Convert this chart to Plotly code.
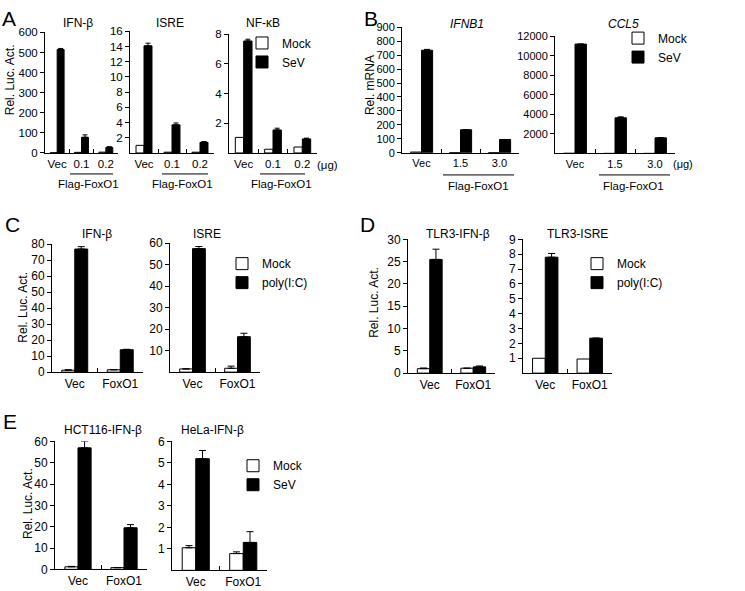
import plotly.graph_objects as go

W, H = 745, 591
FONT = "Arial, 'Liberation Sans', sans-serif"

# ---------------- data ----------------
# Panel A (luciferase, SeV)
a_cats = ["Vec", "0.1", "0.2"]
a_ifnb_mock = [1, 3, 4]
a_ifnb_mock_err = [0, 0, 0]
a_ifnb_sev = [515, 78, 28]
a_ifnb_sev_err = [5, 12, 3]
a_isre_mock = [1.0, 0.1, 0.1]
a_isre_mock_err = [0, 0, 0]
a_isre_sev = [14.1, 3.7, 1.4]
a_isre_sev_err = [0.35, 0.25, 0.1]
a_nfkb_mock = [1.05, 0.25, 0.4]
a_nfkb_mock_err = [0, 0, 0]
a_nfkb_sev = [7.55, 1.55, 0.95]
a_nfkb_sev_err = [0.12, 0.12, 0.05]

# Panel B (mRNA, SeV)
b_cats = ["Vec", "1.5", "3.0"]
b_ifnb1_mock = [5, 1, 1]
b_ifnb1_mock_err = [0, 0, 0]
b_ifnb1_sev = [735, 165, 95]
b_ifnb1_sev_err = [6, 0, 0]
b_ccl5_mock = [20, 5, 5]
b_ccl5_mock_err = [0, 0, 0]
b_ccl5_sev = [11200, 3650, 1600]
b_ccl5_sev_err = [0, 100, 0]

# Panel C (poly(I:C))
c_cats = ["Vec", "FoxO1"]
c_ifnb_mock = [1.2, 1.5]
c_ifnb_mock_err = [0.3, 0]
c_ifnb_poly = [77, 14]
c_ifnb_poly_err = [1.5, 0.3]
c_isre_mock = [1.5, 1.8]
c_isre_mock_err = [0, 1.0]
c_isre_poly = [57.5, 16.5]
c_isre_poly_err = [1.0, 1.6]

# Panel D (TLR3, poly(I:C))
d_cats = ["Vec", "FoxO1"]
d_ifnb_mock = [1.0, 1.1]
d_ifnb_mock_err = [0.15, 0]
d_ifnb_poly = [25.5, 1.4]
d_ifnb_poly_err = [2.3, 0.2]
d_isre_mock = [1.0, 0.95]
d_isre_mock_err = [0, 0]
d_isre_poly = [7.8, 2.35]
d_isre_poly_err = [0.25, 0]

# Panel E (cell lines, SeV)
e_cats = ["Vec", "FoxO1"]
e_hct_mock = [1.2, 0.8]
e_hct_mock_err = [0.2, 0]
e_hct_sev = [57, 19.5]
e_hct_sev_err = [3, 1.5]
e_hela_mock = [1.05, 0.78]
e_hela_mock_err = [0.1, 0.08]
e_hela_sev = [5.2, 1.3]
e_hela_sev_err = [0.38, 0.5]


def px(x):
    return x / W


def py(y):
    return 1 - y / H


subplots = [
    dict(title="IFN-β", cats=a_cats, mock=a_ifnb_mock, merr=a_ifnb_mock_err, trt=a_ifnb_sev, terr=a_ifnb_sev_err,
         tname="SeV", ymax=600, tv=list(range(0, 601, 100)), xp=(45, 118), yp=(149.5, 26), fs=11.5,
         leg="legend", show=True, tpos=(78, 16), cap=2.5),
    dict(title="ISRE", cats=a_cats, mock=a_isre_mock, merr=a_isre_mock_err, trt=a_isre_sev, terr=a_isre_sev_err,
         tname="SeV", ymax=16, tv=list(range(2, 17, 2)), xp=(130, 214), yp=(149.5, 25), fs=11.5,
         leg="legend", show=False, tpos=(170, 16), cap=2.5),
    dict(title="NF-κB", cats=a_cats, mock=a_nfkb_mock, merr=a_nfkb_mock_err, trt=a_nfkb_sev, terr=a_nfkb_sev_err,
         tname="SeV", ymax=8, tv=[2, 4, 6, 8], xp=(229, 317), yp=(149.5, 28), fs=11.5,
         leg="legend", show=False, tpos=(263, 16), cap=2.5),
    dict(title="<i>IFNB1</i>", cats=b_cats, mock=b_ifnb1_mock, merr=b_ifnb1_mock_err, trt=b_ifnb1_sev,
         terr=b_ifnb1_sev_err, tname="SeV", ymax=900, tv=list(range(0, 901, 100)), xp=(402, 519),
         yp=(149.3, 20.7), fs=11, leg="legend2", show=True, tpos=(467, 17), cap=3),
    dict(title="<i>CCL5</i>", cats=b_cats, mock=b_ccl5_mock, merr=b_ccl5_mock_err, trt=b_ccl5_sev,
         terr=b_ccl5_sev_err, tname="SeV", ymax=12000, tv=list(range(2000, 12001, 2000)), xp=(555, 675),
         yp=(150, 30), fs=11, leg="legend2", show=False, tpos=(623, 17), cap=3),
    dict(title="IFN-β", cats=c_cats, mock=c_ifnb_mock, merr=c_ifnb_mock_err, trt=c_ifnb_poly, terr=c_ifnb_poly_err,
         tname="poly(I:C)", ymax=80, tv=list(range(0, 81, 10)), xp=(52, 143), yp=(374, 243), fs=12,
         leg="legend3", show=True, tpos=(97, 233), cap=3.5),
    dict(title="ISRE", cats=c_cats, mock=c_isre_mock, merr=c_isre_mock_err, trt=c_isre_poly, terr=c_isre_poly_err,
         tname="poly(I:C)", ymax=60, tv=list(range(10, 61, 10)), xp=(170, 260), yp=(374, 242), fs=12,
         leg="legend3", show=False, tpos=(207, 233), cap=3.5),
    dict(title="TLR3-IFN-β", cats=d_cats, mock=d_ifnb_mock, merr=d_ifnb_mock_err, trt=d_ifnb_poly,
         terr=d_ifnb_poly_err, tname="poly(I:C)", ymax=30, tv=list(range(0, 31, 5)), xp=(408, 495),
         yp=(375, 238), fs=12, leg="legend4", show=True, tpos=(458, 232), cap=3.5),
    dict(title="TLR3-ISRE", cats=d_cats, mock=d_isre_mock, merr=d_isre_mock_err, trt=d_isre_poly,
         terr=d_isre_poly_err, tname="poly(I:C)", ymax=9, tv=list(range(1, 10)), xp=(523, 612),
         yp=(375, 238), fs=12, leg="legend4", show=False, tpos=(577, 232), cap=3.5),
    dict(title="HCT116-IFN-β", cats=e_cats, mock=e_hct_mock, merr=e_hct_mock_err, trt=e_hct_sev,
         terr=e_hct_sev_err, tname="SeV", ymax=60, tv=list(range(0, 61, 10)), xp=(55, 147),
         yp=(576, 445), fs=12, leg="legend5", show=True, tpos=(103, 433), cap=3.5),
    dict(title="HeLa-IFN-β", cats=e_cats, mock=e_hela_mock, merr=e_hela_mock_err, trt=e_hela_sev,
         terr=e_hela_sev_err, tname="SeV", ymax=6, tv=list(range(1, 7)), xp=(172, 267),
         yp=(577, 445), fs=12, leg="legend5", show=False, tpos=(212, 433), cap=3.5),
]

fig = go.Figure()
annotations = []
layout_axes = {}


def err(arr, cap):
    if not any(v > 0 for v in arr):
        return dict(visible=False)
    return dict(type="data", array=arr, arrayminus=[0] * len(arr), symmetric=False,
                color="black", thickness=1, width=cap, visible=True)


for i, s in enumerate(subplots, start=1):
    xa = "x" if i == 1 else f"x{i}"
    ya = "y" if i == 1 else f"y{i}"
    n = len(s["cats"])
    fig.add_trace(go.Bar(
        x=s["cats"], y=s["mock"], name="Mock", xaxis=xa, yaxis=ya,
        marker=dict(color="white", line=dict(color="black", width=1)),
        error_y=err(s["merr"], s["cap"]), showlegend=s["show"], legend=s["leg"],
        legendgroup=f"{s['leg']}_mock"))
    fig.add_trace(go.Bar(
        x=s["cats"], y=s["trt"], name=s["tname"], xaxis=xa, yaxis=ya,
        marker=dict(color="black", line=dict(color="black", width=1)),
        error_y=err(s["terr"], s["cap"]), showlegend=s["show"], legend=s["leg"],
        legendgroup=f"{s['leg']}_trt"))
    x0, x1 = s["xp"]
    yz, yt = s["yp"]
    kx = "xaxis" if i == 1 else f"xaxis{i}"
    ky = "yaxis" if i == 1 else f"yaxis{i}"
    layout_axes[kx] = dict(
        domain=[px(x0), px(x1)], anchor=ya, type="category", range=[-0.5, n - 0.5],
        showline=True, linecolor="black", linewidth=1, ticks="inside", tickson="boundaries",
        ticklen=4, tickcolor="black", tickwidth=1, showgrid=False, zeroline=False, tickangle=0,
        tickfont=dict(family=FONT, size=s["fs"], color="black"), fixedrange=True)
    layout_axes[ky] = dict(
        domain=[py(yz), py(yt)], anchor=xa, range=[0, s["ymax"]], tickmode="array",
        tickvals=s["tv"], ticktext=[str(v) for v in s["tv"]],
        showline=True, linecolor="black", linewidth=1, ticks="outside", ticklen=4,
        tickcolor="black", tickwidth=1, showgrid=False, zeroline=False,
        tickfont=dict(family=FONT, size=s["fs"], color="black"), fixedrange=True)
    annotations.append(dict(text=s["title"], x=px(s["tpos"][0]), y=py(s["tpos"][1]), xref="paper",
                            yref="paper", showarrow=False, xanchor="center", yanchor="middle",
                            font=dict(family=FONT, size=12, color="black")))


def text(t, x, y, size=12, angle=0, xanchor="center"):
    annotations.append(dict(text=t, x=px(x), y=py(y), xref="paper", yref="paper", showarrow=False,
                            xanchor=xanchor, yanchor="middle", textangle=angle,
                            font=dict(family=FONT, size=size, color="black")))


# panel letters
for letter, x, y in [("A", 9, 12), ("B", 371, 12), ("C", 12, 223), ("D", 367, 223), ("E", 10, 425)]:
    text(letter, x, y, size=21)

# y-axis titles
text("Rel. Luc. Act.", 10, 75, size=12, angle=-90)
text("Rel. mRNA", 370, 80, size=12, angle=-90)
text("Rel. Luc. Act.", 23, 308, size=12, angle=-90)
text("Rel. Luc. Act.", 374, 303, size=12, angle=-90)
text("Rel. Luc. Act.", 28, 508, size=12, angle=-90)

# units
text("(μg)", 327, 162, size=11.5)
text("(μg)", 683, 161, size=11)

# brackets and Flag-FoxO1 labels
shapes = []
for (bx0, bx1, by, tx, ty) in [(70, 113, 171, 88, 181), (162, 208, 171, 182, 181), (260, 305, 171, 281, 181),
                                (443, 514, 172, 478, 183), (599, 670, 172, 633, 183)]:
    shapes.append(dict(type="line", xref="paper", yref="paper", x0=px(bx0), x1=px(bx1), y0=py(by), y1=py(by),
                       line=dict(color="black", width=1)))
    text("Flag-FoxO1", tx, ty, size=11.5)


def legend(x_text, y_first, gap, size=12):
    return dict(x=px(x_text - 40), y=py(y_first - 15), xanchor="left", yanchor="top",
                bgcolor="rgba(0,0,0,0)", borderwidth=0, tracegroupgap=gap, itemwidth=30,
                font=dict(family=FONT, size=size, color="black"), traceorder="normal")


fig.update_layout(
    width=W, height=H, margin=dict(l=0, r=0, t=0, b=0),
    paper_bgcolor="white", plot_bgcolor="white",
    barmode="group", bargap=0.43, bargroupgap=0,
    font=dict(family=FONT, size=12, color="black"),
    annotations=annotations, shapes=shapes,
    legend=legend(282, 37, 2),
    legend2=legend(658, 32, 4),
    legend3=legend(262, 263, 5),
    legend4=legend(617, 263, 5),
    legend5=legend(273, 470, 2),
    **layout_axes,
)

fig.write_html("out.html", config={"displayModeBar": False},
               post_script="document.body.style.margin='0';")
